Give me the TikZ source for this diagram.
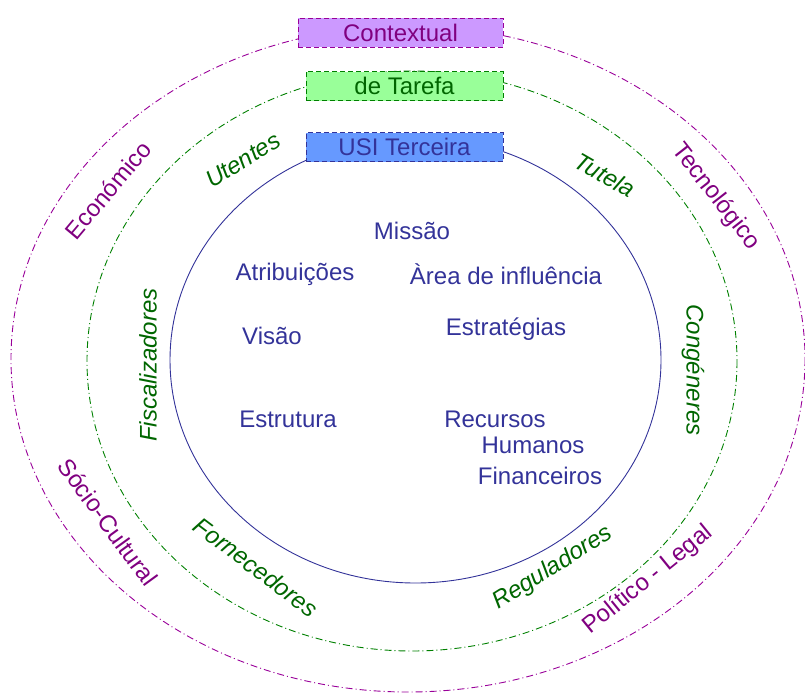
\documentclass[tikz,border=0pt]{standalone}
\usepackage{fontspec}
\setmainfont{Liberation Sans}
\definecolor{purptext}{HTML}{800080}
\definecolor{purpline}{HTML}{990099}
\definecolor{purpfill}{HTML}{CC99FF}
\definecolor{greentext}{HTML}{006600}
\definecolor{greenline}{HTML}{008000}
\definecolor{greenfill}{HTML}{99FF99}
\definecolor{bluetext}{HTML}{333399}
\definecolor{bluefill}{HTML}{6699FF}
\tikzset{
  lbl/.style={font=\fontsize{24}{28}\selectfont, inner sep=0pt},
  inner/.style={lbl, text=bluetext},
  task/.style={lbl, text=greentext, font=\fontsize{24}{28}\selectfont\itshape},
  ctx/.style={lbl, text=purptext},
  boxbase/.style={draw, dashed, dash pattern=on 5pt off 3pt, line width=0.8pt, minimum width=205pt, minimum height=29pt, inner sep=0pt, font=\fontsize{24}{28}\selectfont},
  dashdot/.style={line width=0.9pt, dash pattern=on 7pt off 3pt on 1pt off 3pt},
}
\begin{document}
\begin{tikzpicture}[x=1pt,y=-1pt]
\useasboundingbox (0,0) rectangle (805,693);
% ellipses
\draw[purpline, dashdot] (408,359) ellipse [x radius=397, y radius=333];
\draw[greenline, dashdot] (412,361) ellipse [x radius=325, y radius=290];
\draw[bluetext, line width=0.9pt] (415.5,360) ellipse [x radius=245.5, y radius=223];
% boxes
\node[boxbase, draw=purpline, fill=purpfill, text=purptext, minimum width=205pt] (ctxbox) at (400.5,32.5) {Contextual};
\node[boxbase, draw=greenline, fill=greenfill, text=greentext, minimum width=197pt] (taskbox) at (404.5,86) {de Tarefa};
\node[boxbase, draw=bluetext, fill=bluefill, text=bluetext, minimum width=197pt] (usibox) at (404.5,147) {USI Terceira};
% inner texts
\node[inner] (missao) at (412,231) {Missão};
\node[inner] (atrib) at (295,274) {Atribuições};
\node[inner] (area) at (506,274) {Àrea de influência};
\node[inner] (visao) at (272,336) {Visão};
\node[inner] (estrat) at (506,329) {Estratégias};
\node[inner] (estrut) at (288,419) {Estrutura};
\node[inner] (recursos) at (495,419) {Recursos};
\node[inner] (humanos) at (533,445) {Humanos};
\node[inner] (financ) at (540,476) {Financeiros};
% task environment
\node[task, rotate=32] (utentes) at (243,160) {Utentes};
\node[task, rotate=-30] (tutela) at (605,175) {Tutela};
\node[task, rotate=90] (fiscal) at (148,365) {Fiscalizadores};
\node[task, rotate=-90] (congen) at (693,370) {Congéneres};
\node[task, rotate=-37] (fornec) at (256,567) {Fornecedores};
\node[task, rotate=32] (regul) at (553,568) {Reguladores};
% contextual environment
\node[ctx, rotate=50] (econ) at (108,190) {Económico};
\node[ctx, rotate=-52] (tecno) at (716,197) {Tecnológico};
\node[ctx, rotate=-54] (socio) at (108,522) {Sócio-Cultural};
\node[ctx, rotate=39] (polit) at (648,580) {Político - Legal};
\end{tikzpicture}
\end{document}
